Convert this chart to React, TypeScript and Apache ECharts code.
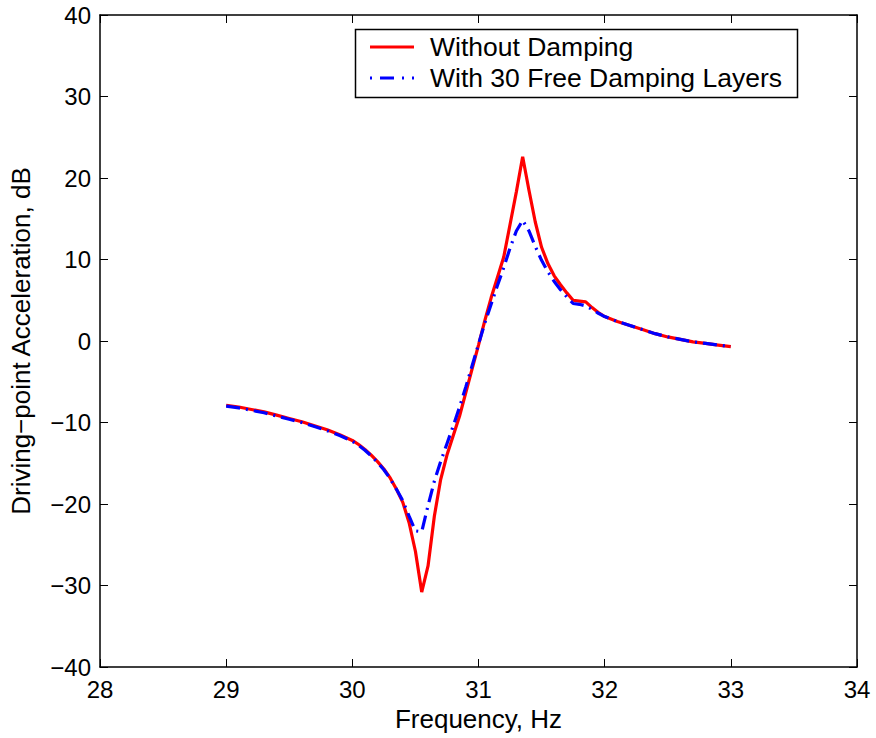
import React, { useEffect, useRef } from "react";
import * as echarts from "echarts";

const freq = [
  29.0, 29.1, 29.2, 29.3, 29.4, 29.5, 29.6, 29.7, 29.8, 29.9, 30.0, 30.05, 30.1, 30.15, 30.2, 30.25,
  30.3, 30.35, 30.4, 30.45, 30.5, 30.55, 30.6, 30.65, 30.7, 30.75, 30.8, 30.85, 30.9, 30.95, 31.0,
  31.05, 31.1, 31.15, 31.2, 31.25, 31.3, 31.35, 31.4, 31.45, 31.5, 31.55, 31.6, 31.65, 31.7, 31.75,
  31.8, 31.85, 31.9, 31.95, 32.0, 32.1, 32.2, 32.3, 32.4, 32.5, 32.6, 32.7, 32.8, 32.9, 33.0,
];

const withoutDamping = [
  -7.9, -8.1, -8.4, -8.7, -9.1, -9.5, -9.9, -10.4, -10.9, -11.5, -12.2, -12.7, -13.3, -14.0, -14.8,
  -15.7, -16.8, -18.2, -19.8, -22.3, -25.8, -30.8, -27.6, -21.5, -17.0, -14.0, -11.6, -9.2, -6.3,
  -3.4, -0.5, 2.5, 5.3, 7.8, 10.3, 14.3, 18.3, 22.6, 18.5, 14.6, 11.5, 9.5, 8.0, 6.9, 5.9, 5.0, 4.9,
  4.8, 4.1, 3.5, 3.0, 2.4, 1.9, 1.4, 0.9, 0.5, 0.2, -0.1, -0.3, -0.5, -0.7,
];

const withDamping = [
  -8.0, -8.2, -8.5, -8.8, -9.2, -9.6, -10.0, -10.5, -11.0, -11.6, -12.3, -12.8, -13.4, -14.1, -14.9,
  -15.8, -16.9, -18.2, -19.6, -21.5, -23.3, -23.4, -20.2, -17.2, -14.8, -12.6, -10.4, -8.1, -5.6,
  -3.0, -0.4, 2.2, 4.5, 6.8, 9.0, 11.4, 13.5, 14.8, 13.5, 11.6, 9.9, 8.5, 7.3, 6.3, 5.4, 4.6, 4.5,
  4.3, 3.9, 3.4, 3.0, 2.4, 1.9, 1.4, 0.9, 0.5, 0.2, -0.1, -0.3, -0.5, -0.7,
];

const xTicks = [28, 29, 30, 31, 32, 33, 34];
const yTicks = [-40, -30, -20, -10, 0, 10, 20, 30, 40];

const legendNames = ["Without Damping", "With 30 Free Damping Layers"];
const xTitle = "Frequency, Hz";
const yTitle = "Driving\u2212point Acceleration, dB";

const FONT = "'Liberation Sans', Arial, Helvetica, sans-serif";

export default function App() {
  const ref = useRef<HTMLDivElement>(null);
  useEffect(() => {
    if (!ref.current) return;
    const chart = echarts.init(ref.current, undefined, { renderer: "svg" });
    const fmtMinus = (v: number) => String(v).replace("-", "\u2212");
    const axisLine = { show: true, onZero: false, lineStyle: { color: "#000", width: 1.5 } };
    const tickStyle = { show: true, inside: true, length: 8, lineStyle: { color: "#000", width: 1 } };
    const labelStyle = { color: "#000", fontSize: 24, fontFamily: FONT };
    const titleStyle = { color: "#000", fontSize: 26, fontFamily: FONT };
    const lx = 370;
    chart.setOption({
      animation: false,
      backgroundColor: "#fff",
      grid: { left: 98, right: 19, top: 15, bottom: 71, containLabel: false },
      xAxis: [
        {
          type: "value",
          min: xTicks[0],
          max: xTicks[xTicks.length - 1],
          interval: 1,
          position: "bottom",
          name: xTitle,
          nameLocation: "middle",
          nameGap: 38,
          nameTextStyle: titleStyle,
          axisLine,
          axisTick: tickStyle,
          axisLabel: { ...labelStyle, margin: 10 },
          splitLine: { show: false },
        },
        {
          type: "value",
          min: xTicks[0],
          max: xTicks[xTicks.length - 1],
          interval: 1,
          position: "top",
          axisLine,
          axisTick: tickStyle,
          axisLabel: { show: false },
          splitLine: { show: false },
        },
      ],
      yAxis: [
        {
          type: "value",
          min: yTicks[0],
          max: yTicks[yTicks.length - 1],
          interval: 10,
          position: "left",
          name: yTitle,
          nameLocation: "middle",
          nameGap: 66,
          nameTextStyle: titleStyle,
          axisLine,
          axisTick: tickStyle,
          axisLabel: { ...labelStyle, margin: 9, formatter: fmtMinus },
          splitLine: { show: false },
        },
        {
          type: "value",
          min: yTicks[0],
          max: yTicks[yTicks.length - 1],
          interval: 10,
          position: "right",
          axisLine,
          axisTick: tickStyle,
          axisLabel: { show: false },
          splitLine: { show: false },
        },
      ],
      series: [
        {
          name: legendNames[0],
          type: "line",
          xAxisIndex: 0,
          yAxisIndex: 0,
          data: freq.map((f, i) => [f, withoutDamping[i]]),
          showSymbol: false,
          symbol: "none",
          lineStyle: { color: "#ff0000", width: 3.2 },
          z: 2,
        },
        {
          name: legendNames[1],
          type: "line",
          xAxisIndex: 0,
          yAxisIndex: 0,
          data: freq.map((f, i) => [f, withDamping[i]]),
          showSymbol: false,
          symbol: "none",
          lineStyle: { color: "#0000ff", width: 3.2, type: [14, 6, 2, 6] },
          z: 3,
        },
      ],
      graphic: [
        {
          type: "rect",
          shape: { x: 355.5, y: 29.5, width: 442, height: 68 },
          style: { fill: "#fff", stroke: "#000", lineWidth: 1.5 },
          z: 10,
        },
        {
          type: "line",
          shape: { x1: lx, y1: 47, x2: lx + 44, y2: 47 },
          style: { stroke: "#ff0000", lineWidth: 3.2 },
          z: 11,
        },
        {
          type: "line",
          shape: { x1: lx, y1: 78, x2: lx + 44, y2: 78 },
          style: { stroke: "#0000ff", lineWidth: 3.2, lineDash: [2, 8, 14, 8] },
          z: 11,
        },
        {
          type: "text",
          x: 430,
          y: 47,
          style: { text: legendNames[0], fill: "#000", fontSize: 26.5, fontFamily: FONT, verticalAlign: "middle" },
          z: 11,
        },
        {
          type: "text",
          x: 430,
          y: 78,
          style: { text: legendNames[1], fill: "#000", fontSize: 26.5, fontFamily: FONT, verticalAlign: "middle" },
          z: 11,
        },
      ],
    });
    return () => chart.dispose();
  }, []);
  return <div ref={ref} style={{ width: 876, height: 738, position: "absolute", left: 0, top: 0 }} />;
}
